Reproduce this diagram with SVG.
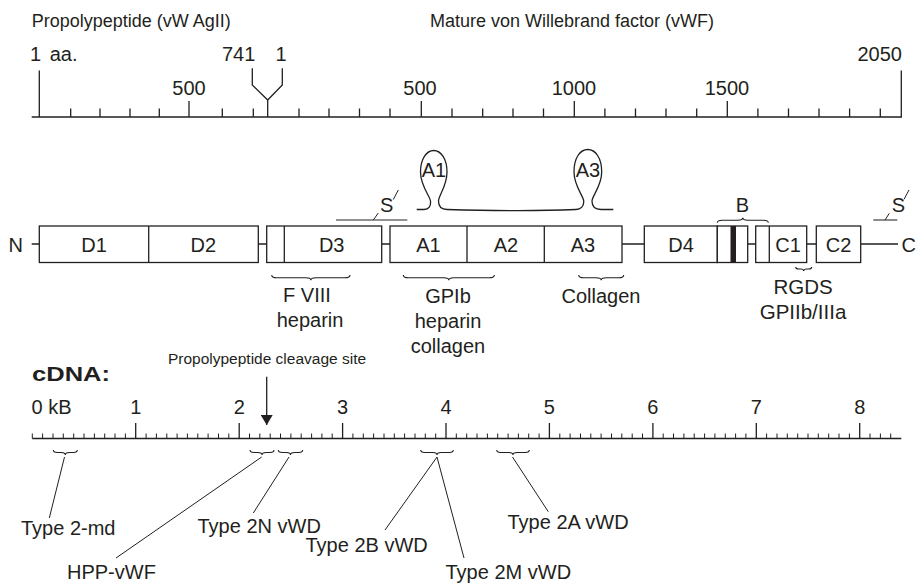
<svg xmlns="http://www.w3.org/2000/svg" width="917" height="585" viewBox="0 0 917 585">
<defs>
<style>
text{font-family:"Liberation Sans",Arial,Helvetica,sans-serif;fill:#231f20}
.t18{font-size:18px}
.t20{font-size:20px}
.t15{font-size:15.5px}
.mid{text-anchor:middle}
.end{text-anchor:end}
.ln{fill:none;stroke:#231f20;stroke-width:1.3}
.box{fill:#fff;stroke:#231f20;stroke-width:1.3}
.brace{fill:none;stroke:#231f20;stroke-width:1.1}
.ss{fill:none;stroke:#6d6e71;stroke-width:1.6}
.thin{fill:none;stroke:#231f20;stroke-width:1}
</style>
<marker id="ah" viewBox="0 0 10 12" refX="10" refY="6" markerWidth="10" markerHeight="12" markerUnits="userSpaceOnUse" orient="auto"><path d="M0,0L10,6L0,12z" fill="#231f20"/></marker>
</defs>
<rect width="917" height="585" fill="#fff"/>

<g id="titles">
<text class="t18" x="31.7" y="27">Propolypeptide (vW AgII)</text>
<text class="t18" x="430" y="27">Mature von Willebrand factor (vWF)</text>
</g>

<g id="aa-scale">
<path class="ln" d="M31.7,117H902"/>
<path class="ln" d="M39.3,70.5V117M901.3,70.5V117M189,101V117M421.3,101V117M574.3,101V117M727.3,101V117M70.7,108.5V117M100,108.5V117M130,108.5V117M159.3,108.5V117M222.3,108.5V117M253.3,108.5V117M299,108.5V117M329,108.5V117M359.5,108.5V117M390,108.5V117M452,108.5V117M482.7,108.5V117M513,108.5V117M543.5,108.5V117M604.9,108.5V117M635.5,108.5V117M666,108.5V117M696.7,108.5V117M757.9,108.5V117M788.5,108.5V117M819,108.5V117M849.6,108.5V117M880.3,108.5V117"/>
<path class="ln" d="M252.3,68.3V85L267.7,100L282.3,85V68.3M267.7,100V117"/>
<text class="t20" x="30" y="61">1 <tspan dx="3">aa.</tspan></text>
<text class="t20" x="222" y="61">741</text>
<text class="t20 mid" x="281" y="61">1</text>
<text class="t20 end" x="902" y="61">2050</text>
<text class="t20 mid" x="189" y="95">500</text>
<text class="t20 mid" x="420" y="95">500</text>
<text class="t20 mid" x="574" y="95">1000</text>
<text class="t20 mid" x="727" y="95">1500</text>
</g>

<g id="connectors">
<path class="ln" d="M31.7,244H39.3M258.3,244H266.7M381.7,244H390M622,244H644.3M747.7,244H755.7M806.7,244H816.3M860.7,244H898"/>
<path class="ln" d="M416.7,209.5L424,209.5C429,209.5 431,206 430.5,201C430,196 420.5,186 420.5,172C420.5,159 426.5,150.5 433.7,150.5C441,150.5 447,159 447,172C447,186 438.5,196 438.5,201C438.5,206 441,209.5 447,209.5C500,211 540,211 576,209.5C581,209.5 584,206 583.7,201C583.5,196 574,186 574,172C574,158 580,149.5 587.8,149.5C595.5,149.5 601.7,158 601.7,172C601.7,186 592,196 592,201C592,206 595,209.5 601,209.5L613.3,209.5"/>
<path class="thin" d="M64.5,457L49.3,518M261.7,457L116,558M289,457L253.3,513M437,457L385,530M437,457L464,558M512.5,457L548.3,511.7"/>
<path class="ln" d="M266.7,376.7V425" marker-end="url(#ah)"/>
</g>

<g id="N-term"><text class="t20" x="8.5" y="251.5">N</text></g>
<g id="C-term"><text class="t20" x="901.5" y="251.5">C</text></g>

<g id="domain-D1-D2">
<rect class="box" x="39.3" y="226" width="219" height="36.5"/>
<path class="ln" d="M148.7,226V262.5"/>
<text class="t20 mid" x="94" y="251.5">D1</text>
<text class="t20 mid" x="203.3" y="251.5">D2</text>
</g>

<g id="domain-D3">
<rect class="box" x="266.7" y="226" width="115" height="36.5"/>
<path class="ln" d="M284.3,226V262.5"/>
<text class="t20 mid" x="331.7" y="251.5">D3</text>
</g>

<g id="domain-A">
<rect class="box" x="390" y="226" width="232" height="36.5"/>
<path class="ln" d="M467,226V262.5M544.3,226V262.5"/>
<text class="t20 mid" x="428.5" y="251.5">A1</text>
<text class="t20 mid" x="506" y="251.5">A2</text>
<text class="t20 mid" x="583" y="251.5">A3</text>
</g>

<g id="loop-labels">
<text class="t20 mid" x="434" y="177">A1</text>
<text class="t20 mid" x="588" y="177">A3</text>
</g>

<g id="domain-D4">
<rect class="box" x="644.3" y="226" width="73" height="36.5"/>
<text class="t20 mid" x="681" y="251.5">D4</text>
</g>

<g id="domain-B">
<rect class="box" x="717.3" y="226" width="30.4" height="36.5"/>
<rect x="730.5" y="226" width="5.5" height="36.5" fill="#231f20"/>
<path class="brace" d="M717.3,222.7Q717.3,220.2 722.3,220.2L737.8,220.2Q742.8,220.2 742.8,217.7Q742.8,220.2 747.8,220.2L763.3,220.2Q768.3,220.2 768.3,222.7"/>
<text class="t20 mid" x="742.5" y="211.7">B</text>
</g>

<g id="domain-C1">
<rect class="box" x="755.7" y="226" width="51" height="36.5"/>
<path class="ln" d="M769.3,226V262.5"/>
<text class="t20 mid" x="788" y="251.5">C1</text>
</g>

<g id="domain-C2">
<rect class="box" x="816.3" y="226" width="44.4" height="36.5"/>
<text class="t20 mid" x="838.5" y="251.5">C2</text>
</g>

<g id="disulfide-1">
<path class="ss" d="M336,220H407.3"/>
<path class="thin" d="M373.3,220L378.3,213M393.3,199.5L398.3,190"/>
<text class="t20" x="380" y="211.7">S</text>
</g>

<g id="disulfide-2">
<path class="ss" d="M873.3,220H897.3"/>
<path class="thin" d="M885,220L889.3,213.3M904,199.3L909,190"/>
<text class="t20" x="891.7" y="211.7">S</text>
</g>

<g id="site-FVIII">
<path class="brace" d="M271.7,275Q271.7,277.8 276.7,277.8L305.9,277.8Q310.9,277.8 310.9,280.3Q310.9,277.8 315.9,277.8L345,277.8Q350,277.8 350,275"/>
<text class="t20 mid" x="307" y="302">F VIII</text>
<text class="t20 mid" x="310" y="327">heparin</text>
</g>

<g id="site-GPIb">
<path class="brace" d="M403.3,275Q403.3,277.8 408.3,277.8L443.8,277.8Q448.8,277.8 448.8,280.3Q448.8,277.8 453.8,277.8L489.3,277.8Q494.3,277.8 494.3,275"/>
<text class="t20 mid" x="448" y="303">GPIb</text>
<text class="t20 mid" x="448" y="328">heparin</text>
<text class="t20 mid" x="448" y="353">collagen</text>
</g>

<g id="site-collagen">
<path class="brace" d="M578.7,275Q578.7,277.8 583.7,277.8L596.2,277.8Q601.2,277.8 601.2,280.3Q601.2,277.8 606.2,277.8L618.7,277.8Q623.7,277.8 623.7,275"/>
<text class="t20 mid" x="601" y="303.3">Collagen</text>
</g>

<g id="site-RGDS">
<path class="brace" d="M795.7,267Q795.7,269 798.7,269L800.7,269Q803.7,269 803.7,271Q803.7,269 806.7,269L808.7,269Q811.7,269 811.7,267"/>
<text class="t20 mid" x="803" y="294.3" style="font-size:20.5px">RGDS</text>
<text class="t20 mid" x="803" y="319" style="font-size:20.5px">GPIIb/IIIa</text>
</g>

<g id="cdna-scale">
<text x="32" y="381" font-size="21" font-weight="bold" textLength="78" lengthAdjust="spacingAndGlyphs">cDNA:</text>
<text class="t15 mid" x="267" y="364">Propolypeptide cleavage site</text>
<path class="ln" d="M32.3,438.5H901.3"/>
<path class="ln" d="M135.7,423V438.5M239.2,423V438.5M342.6,423V438.5M446,423V438.5M549.4,423V438.5M652.9,423V438.5M756.3,423V438.5M859.7,423V438.5"/>
<path class="thin" d="M32.3,433.5V438.5M42.6,433.5V438.5M53,433.5V438.5M63.3,433.5V438.5M73.7,433.5V438.5M84,433.5V438.5M94.4,433.5V438.5M104.7,433.5V438.5M115,433.5V438.5M125.4,433.5V438.5M146.1,433.5V438.5M156.4,433.5V438.5M166.8,433.5V438.5M177.1,433.5V438.5M187.4,433.5V438.5M197.8,433.5V438.5M208.1,433.5V438.5M218.5,433.5V438.5M228.8,433.5V438.5M249.5,433.5V438.5M259.8,433.5V438.5M270.2,433.5V438.5M280.5,433.5V438.5M290.9,433.5V438.5M301.2,433.5V438.5M311.6,433.5V438.5M321.9,433.5V438.5M332.2,433.5V438.5M352.9,433.5V438.5M363.3,433.5V438.5M373.6,433.5V438.5M384,433.5V438.5M394.3,433.5V438.5M404.6,433.5V438.5M415,433.5V438.5M425.3,433.5V438.5M435.7,433.5V438.5M456.3,433.5V438.5M466.7,433.5V438.5M477,433.5V438.5M487.4,433.5V438.5M497.7,433.5V438.5M508.1,433.5V438.5M518.4,433.5V438.5M528.7,433.5V438.5M539.1,433.5V438.5M559.8,433.5V438.5M570.1,433.5V438.5M580.5,433.5V438.5M590.8,433.5V438.5M601.1,433.5V438.5M611.5,433.5V438.5M621.8,433.5V438.5M632.2,433.5V438.5M642.5,433.5V438.5M663.2,433.5V438.5M673.5,433.5V438.5M683.9,433.5V438.5M694.2,433.5V438.5M704.6,433.5V438.5M714.9,433.5V438.5M725.3,433.5V438.5M735.6,433.5V438.5M745.9,433.5V438.5M766.6,433.5V438.5M777,433.5V438.5M787.3,433.5V438.5M797.7,433.5V438.5M808,433.5V438.5M818.3,433.5V438.5M828.7,433.5V438.5M839,433.5V438.5M849.4,433.5V438.5M870,433.5V438.5M880.4,433.5V438.5M890.7,433.5V438.5"/>
<text class="t20" x="31.5" y="414">0 kB</text>
<text class="t20 mid" x="135.7" y="414">1</text>
<text class="t20 mid" x="239.2" y="414">2</text>
<text class="t20 mid" x="342.6" y="414">3</text>
<text class="t20 mid" x="446" y="414">4</text>
<text class="t20 mid" x="549.4" y="414">5</text>
<text class="t20 mid" x="652.9" y="414">6</text>
<text class="t20 mid" x="756.3" y="414">7</text>
<text class="t20 mid" x="859.7" y="414">8</text>
</g>

<g id="mutations">
<path class="brace" d="M53.3,450Q53.3,452.5 57.3,452.5L61.3,452.5Q65.3,452.5 65.3,455Q65.3,452.5 69.3,452.5L73.3,452.5Q77.3,452.5 77.3,450"/>
<path class="brace" d="M250,450Q250,452.5 254,452.5L258,452.5Q262,452.5 262,455Q262,452.5 266,452.5L270,452.5Q274,452.5 274,450"/>
<path class="brace" d="M278.3,450Q278.3,452.5 282.3,452.5L286.5,452.5Q290.5,452.5 290.5,455Q290.5,452.5 294.5,452.5L298.7,452.5Q302.7,452.5 302.7,450"/>
<path class="brace" d="M420.7,450Q420.7,452.5 424.7,452.5L433,452.5Q437,452.5 437,455Q437,452.5 441,452.5L449.3,452.5Q453.3,452.5 453.3,450"/>
<path class="brace" d="M496.7,450Q496.7,452.5 500.7,452.5L509,452.5Q513,452.5 513,455Q513,452.5 517,452.5L525.3,452.5Q529.3,452.5 529.3,450"/>
<text class="t20" x="21" y="535">Type 2-md</text>
<text class="t20" x="67" y="579">HPP-vWF</text>
<text class="t20" x="197.5" y="533.3">Type 2N vWD</text>
<text class="t20" x="305.5" y="551.7">Type 2B vWD</text>
<text class="t20" x="445.5" y="579.3">Type 2M vWD</text>
<text class="t20" x="507.5" y="529.3">Type 2A vWD</text>
</g>
</svg>
